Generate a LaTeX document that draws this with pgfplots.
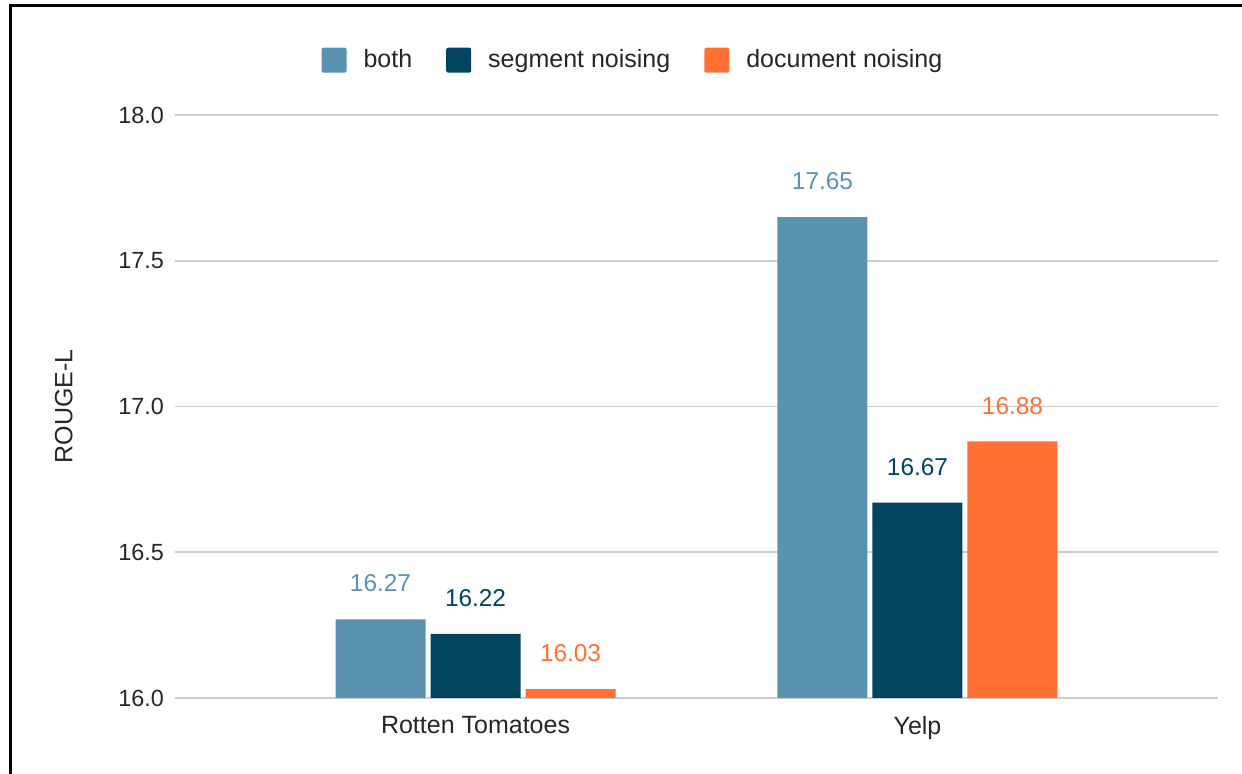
\documentclass[border=0pt]{standalone}
\usepackage{pgfplots}
\pgfplotsset{compat=1.18}
\usepackage{fontspec}
\setmainfont{Liberation Sans}
\definecolor{cboth}{HTML}{5A93B1}
\definecolor{cseg}{HTML}{00445F}
\definecolor{cdoc}{HTML}{FF7033}
\definecolor{cgrid}{HTML}{CCCCCC}
\begin{document}
\begin{tikzpicture}
\path[use as bounding box] (0,0) rectangle (621pt,387pt);
\draw[line width=1.5pt] (5pt,0) -- (5pt,384pt) -- (621pt,384pt);
\begin{axis}[
  at={(87.5pt,38pt)}, anchor=south west,
  scale only axis, width=521.5pt, height=291.5pt,
  xmin=-0.68, xmax=1.68, ymin=16, ymax=18,
  xtick={0,1}, xticklabels={Rotten Tomatoes, Yelp},
  ytick={16,16.5,17,17.5,18},
  yticklabel style={/pgf/number format/fixed, /pgf/number format/fixed zerofill, /pgf/number format/precision=1, xshift=-2pt, font=\fontsize{11.7}{13}\selectfont},
  /pgf/number format/assume math mode=true,
  ymajorgrids, grid style={cgrid, line width=0.8pt},
  axis line style={draw=none}, major tick length=0pt,
  tick label style={text=black!85},
  xticklabel style={yshift=-5.5pt, font=\fontsize{12.5}{14}\selectfont},
  ylabel={ROUGE-L}, ylabel style={font=\fontsize{12.5}{14}\selectfont, text=black!85, yshift=16pt},
  ybar=0pt, bar width=45pt,
  clip=false,
  nodes near coords,
  nodes near coords style={font=\fontsize{12.2}{14}\selectfont, anchor=south, yshift=10pt,
    /pgf/number format/fixed, /pgf/number format/fixed zerofill, /pgf/number format/precision=2},
  legend columns=3,
  legend style={draw=none, at={(0.44,1.094)}, anchor=center,
    font=\fontsize{12.5}{14}\selectfont, text=black!85,
    /tikz/every odd column/.append style={column sep=6.5pt},
    /tikz/every even column/.append style={column sep=15pt}},
  legend image code/.code={\fill[#1, rounded corners=1pt] (0pt,-6.25pt) rectangle (12.5pt,6.25pt);},
]
\addplot[fill=cboth, draw=none, bar shift=-47.5pt, nodes near coords style={text=cboth}] coordinates {(0,16.27) (1,17.65)};
\addplot[fill=cseg, draw=none, bar shift=0pt, nodes near coords style={text=cseg}] coordinates {(0,16.22) (1,16.67)};
\addplot[fill=cdoc, draw=none, bar shift=47.5pt, nodes near coords style={text=cdoc}] coordinates {(0,16.03) (1,16.88)};
\legend{both, segment noising, document noising}
\end{axis}
\end{tikzpicture}
\end{document}
